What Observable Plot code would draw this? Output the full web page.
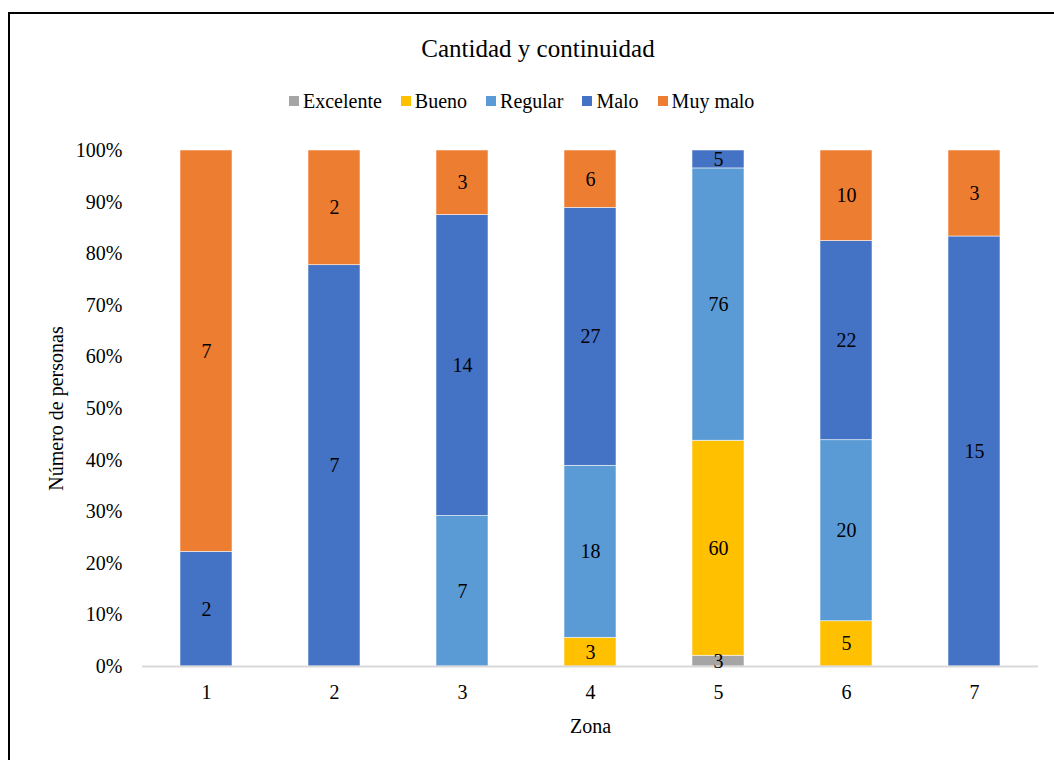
<!DOCTYPE html>
<html>
<head>
<meta charset="utf-8">
<script src="https://cdn.jsdelivr.net/npm/d3@7"></script>
<script src="https://cdn.jsdelivr.net/npm/@observablehq/plot@0.6"></script>
<style>
  html, body { margin: 0; padding: 0; background: #fff; }
  body { width: 1054px; height: 760px; position: relative; overflow: hidden; font-family: "Liberation Serif", "Times New Roman", serif; color: #000; }
  #frame { position: absolute; left: 8px; top: 12px; width: 1200px; height: 900px; border-top: 2px solid #000; border-left: 2px solid #000; box-sizing: border-box; }
  #title { position: absolute; left: 338px; width: 400px; top: 36px; text-align: center; font-size: 25px; line-height: 25px; white-space: nowrap; }
  #legend { position: absolute; left: 289px; top: 91px; display: flex; align-items: center; font-size: 20px; line-height: 20px; white-space: nowrap; }
  .item { display: flex; align-items: center; margin-right: 19px; }
  .sw { width: 10px; height: 10px; margin-right: 4px; }
  #chart { position: absolute; left: 0; top: 130px; }
</style>
</head>
<body>
<div id="frame"></div>
<div id="title">Cantidad y continuidad</div>
<div id="legend"></div>
<div id="chart"></div>
<script>
const zonas = [1, 2, 3, 4, 5, 6, 7];
const categorias = ["Excelente", "Bueno", "Regular", "Malo", "Muy malo"];
const colores = ["#A5A5A5", "#FFC000", "#5B9BD5", "#4472C4", "#ED7D31"];
const excelente = [0, 0, 0, 0, 3, 0, 0];
const bueno = [0, 0, 0, 3, 60, 5, 0];
const regular = [0, 0, 7, 18, 76, 20, 0];
const malo = [2, 7, 14, 27, 5, 22, 15];
const muyMalo = [7, 2, 3, 6, 0, 10, 3];
const yTicks = [0, 0.1, 0.2, 0.3, 0.4, 0.5, 0.6, 0.7, 0.8, 0.9, 1];

const series = [excelente, bueno, regular, malo, muyMalo];
const rows = [];
zonas.forEach((z, i) => {
  categorias.forEach((c, j) => {
    const v = series[j][i];
    if (v > 0) rows.push({zona: z, cat: c, value: v});
  });
});

// legend
const legend = document.getElementById("legend");
categorias.forEach((c, j) => {
  const it = document.createElement("div");
  it.className = "item";
  const sw = document.createElement("div");
  sw.className = "sw";
  sw.style.background = colores[j];
  const tx = document.createElement("span");
  tx.textContent = c;
  it.appendChild(sw);
  it.appendChild(tx);
  legend.appendChild(it);
});

const fmt = d3.format(".0%");
const chart = Plot.plot({
  width: 1054,
  height: 630,
  marginTop: 20,
  marginBottom: 94,
  marginLeft: 142,
  marginRight: 16,
  style: {fontFamily: "'Liberation Serif', 'Times New Roman', serif", fontSize: "20px", color: "#000", background: "transparent"},
  x: {domain: zonas, paddingInner: 0.594, paddingOuter: 0.297},
  y: {domain: [0, 1]},
  color: {domain: categorias, range: colores},
  marks: [
    Plot.axisY({ticks: yTicks, tickSize: 0, tickPadding: 20, tickFormat: fmt, label: "Número de personas", labelAnchor: "center", labelArrow: "none", labelOffset: 94}),
    Plot.axisX({tickSize: 0, tickPadding: 18, label: "Zona", labelAnchor: "center", labelArrow: "none", labelOffset: 66}),
    Plot.barY(rows, Plot.stackY({x: "zona", y: "value", z: "cat", fill: "cat", offset: "normalize", order: categorias, stroke: "#fff", strokeWidth: 0.75, strokeOpacity: 0.7})),
    Plot.ruleY([0], {stroke: "#D9D9D9", strokeWidth: 2}),
    Plot.text(rows, Plot.stackY({x: "zona", y: "value", z: "cat", text: "value", offset: "normalize", order: categorias, fill: "#000"}))
  ]
});
document.getElementById("chart").appendChild(chart);
</script>
</body>
</html>
